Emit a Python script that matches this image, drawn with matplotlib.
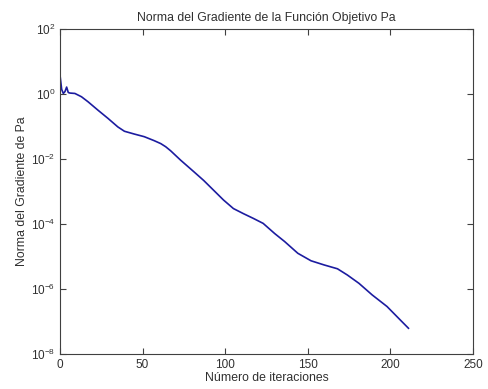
import matplotlib
matplotlib.use("Agg")
import matplotlib.pyplot as plt
import matplotlib.ticker as mticker

plt.rcParams['font.family'] = ['Liberation Sans', 'DejaVu Sans']
plt.rcParams['font.size'] = 8

# iteration number and gradient norm
iteraciones = [0, 1, 2, 3, 4, 5, 6, 9, 13, 17, 23, 29, 35, 39, 45, 51, 57,
               61, 64, 67, 73, 81, 87, 93, 99, 105, 111, 117, 123, 130, 136,
               144, 152, 160, 168, 174, 181, 189, 198, 206, 211]
norma_grad = [3.8, 1.4, 1.05, 1.2, 1.65, 1.12, 1.08, 1.05, 0.83, 0.58, 0.32,
              0.18, 0.098, 0.072, 0.059, 0.049, 0.037, 0.030, 0.024, 0.018,
              0.0093, 0.0041, 0.0022, 0.0011, 5.5e-4, 3.0e-4, 2.1e-4, 1.5e-4,
              1.05e-4, 5.1e-5, 2.9e-5, 1.26e-5, 7.4e-6, 5.5e-6, 4.2e-6,
              2.7e-6, 1.5e-6, 6.6e-7, 2.9e-7, 1.12e-7, 6.2e-8]

titulo = "Norma del Gradiente de la Función Objetivo Pa"
xlab = "Número de iteraciones"
ylab = "Norma del Gradiente de Pa"

fig = plt.figure(figsize=(4.88, 3.89), dpi=100)
ax = fig.add_axes([0.123, 0.090, 0.846, 0.835])

ax.semilogy(iteraciones, norma_grad, color='#1c1ca0', lw=1.2)

ax.set_xlim(0, 250)
ax.set_ylim(1e-8, 1e2)
ax.set_xticks([0, 50, 100, 150, 200, 250])
ax.yaxis.set_major_locator(mticker.FixedLocator([1e-8, 1e-6, 1e-4, 1e-2, 1e0, 1e2]))
ax.yaxis.set_minor_locator(mticker.NullLocator())
ax.yaxis.set_major_formatter(mticker.LogFormatterSciNotation())

txtc = '#303030'
ax.tick_params(direction='in', top=True, right=True, length=4, width=0.8,
               colors='#404040', labelcolor=txtc, labelsize=8.5)
for s in ax.spines.values():
    s.set_color('#404040')
    s.set_linewidth(0.8)

ax.set_title(titulo, color=txtc, fontsize=8.8, pad=6)
ax.set_xlabel(xlab, color=txtc, fontsize=8.8, labelpad=1)
ax.set_ylabel(ylab, color=txtc, fontsize=8.8, labelpad=2)

fig.savefig("out.png", dpi=100)
